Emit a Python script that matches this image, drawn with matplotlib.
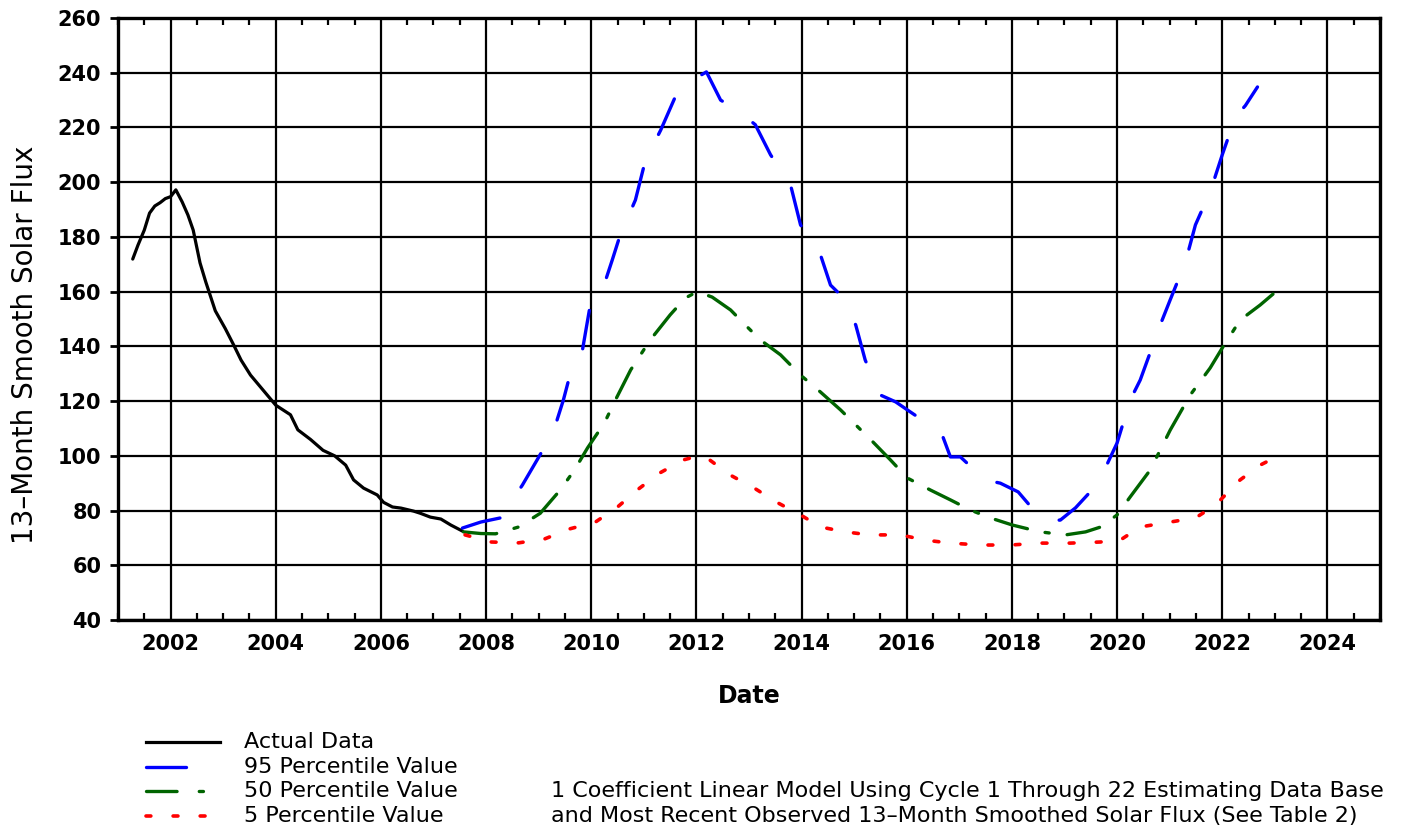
import matplotlib
matplotlib.use("Agg")
import matplotlib.pyplot as plt
from matplotlib.lines import Line2D
from matplotlib.ticker import MultipleLocator

# ---------- DATA ------------
actual_year = [2001.28, 2001.38, 2001.5, 2001.6, 2001.7, 2001.8, 2001.9, 2002.0, 2002.1,
               2002.22, 2002.33, 2002.43, 2002.56, 2002.67, 2002.85, 2003.04, 2003.2,
               2003.34, 2003.52, 2003.76, 2004.0, 2004.28, 2004.42, 2004.66, 2004.9,
               2005.12, 2005.33, 2005.48, 2005.67, 2005.93, 2006.05, 2006.22, 2006.38,
               2006.62, 2006.75, 2006.94, 2007.14, 2007.33, 2007.55]
actual_val = [171.9, 177.0, 182.5, 188.7, 191.3, 192.5, 194.0, 194.7, 197.2,
              192.8, 188.0, 182.5, 170.5, 163.5, 153.0, 146.5, 140.5,
              135.0, 129.5, 124.0, 118.5, 115.0, 109.5, 106.0, 102.0,
              100.0, 96.6, 91.2, 88.2, 85.7, 83.0, 81.3, 80.9,
              79.8, 79.0, 77.6, 76.9, 74.7, 72.5]

p95_year = [2007.55, 2007.9, 2008.27, 2008.69, 2008.97, 2009.19, 2009.32, 2009.47, 2009.57,
            2009.8, 2009.98, 2010.27, 2010.4, 2010.55, 2010.84, 2011.03, 2011.32, 2011.63,
            2011.9, 2012.19, 2012.46, 2012.8, 2013.12, 2013.41, 2013.79, 2013.98, 2014.36,
            2014.55, 2014.74, 2015.03, 2015.21, 2015.5, 2015.79, 2016.01, 2016.3, 2016.64,
            2016.83, 2017.02, 2017.49, 2017.78, 2018.12, 2018.4, 2018.64, 2018.92, 2019.21,
            2019.45, 2019.69, 2020.0, 2020.25, 2020.44, 2020.82, 2021.01, 2021.3, 2021.49,
            2021.78, 2022.0, 2022.25, 2022.44, 2022.67]
p95_val = [73.6, 75.8, 77.3, 89.3, 98.5, 105.8, 111.3, 120.4, 127.7,
           135.0, 155.0, 164.0, 171.6, 180.7, 193.5, 208.0, 219.0, 232.6,
           237.0, 240.3, 230.0, 226.0, 221.0, 210.0, 199.0, 184.4, 173.4,
           162.4, 158.8, 147.8, 135.0, 122.2, 119.7, 116.8, 113.0, 109.4,
           99.6, 99.6, 91.2, 90.0, 86.8, 80.5, 76.5, 76.5, 81.0,
           86.0, 92.0, 104.7, 120.4, 127.7, 147.8, 157.0, 170.8, 184.4,
           197.0, 210.0, 223.8, 228.0, 234.8]

p50_year = [2007.57, 2007.9, 2008.18, 2008.62, 2009.03, 2009.41, 2009.68, 2009.93, 2010.25,
            2010.46, 2010.75, 2011.12, 2011.5, 2011.79, 2012.02, 2012.3, 2012.65, 2012.93,
            2013.22, 2013.6, 2013.98, 2014.36, 2014.74, 2015.03, 2015.32, 2015.69, 2016.01,
            2016.45, 2016.83, 2017.21, 2017.59, 2018.01, 2018.54, 2019.02, 2019.4, 2019.69,
            2020.0, 2020.25, 2020.63, 2021.01, 2021.39, 2021.77, 2022.0, 2022.34, 2022.72,
            2023.1]
p50_val = [72.2, 71.6, 71.5, 74.0, 79.0, 87.5, 94.8, 102.9, 112.0,
           120.4, 131.4, 142.3, 151.5, 157.7, 160.0, 158.0, 153.3, 147.8,
           142.3, 136.9, 129.5, 123.3, 116.8, 111.3, 105.8, 98.5, 91.9,
           87.5, 83.9, 80.2, 77.3, 74.7, 72.2, 71.1, 72.2, 74.0,
           78.4, 85.0, 94.8, 109.4, 122.2, 132.1, 139.4, 149.6, 155.1,
           161.3]

p5_year = [2007.6, 2008.1, 2008.62, 2009.11, 2009.59, 2010.08, 2010.5, 2010.9, 2011.3,
           2011.75, 2012.05, 2012.23, 2012.64, 2013.1, 2013.53, 2013.98, 2014.36, 2014.83,
           2015.3, 2015.88, 2016.35, 2016.83, 2017.4, 2017.97, 2018.54, 2019.11, 2019.68,
           2020.06, 2020.44, 2021.01, 2021.49, 2021.87, 2022.34, 2022.72, 2023.1]
p5_val = [71.1, 68.5, 68.2, 69.6, 73.3, 75.8, 81.3, 87.9, 93.7,
          98.5, 100.0, 98.8, 93.0, 88.2, 83.0, 78.4, 74.0, 72.2,
          71.1, 71.1, 69.2, 68.1, 67.4, 67.4, 68.1, 68.1, 68.5,
          69.2, 74.0, 75.8, 77.3, 82.0, 91.2, 96.6, 100.3]

legend_labels = ["Actual Data", "95 Percentile Value", "50 Percentile Value", "5 Percentile Value"]
note_lines = ["1 Coefficient Linear Model Using Cycle 1 Through 22 Estimating Data Base",
              "and Most Recent Observed 13\u2013Month Smoothed Solar Flux (See Table 2)"]
# ----------------------------

plt.rcParams['font.family'] = ['DejaVu Sans']
plt.rcParams['lines.scale_dashes'] = False

W, H = 1418, 831
fig = plt.figure(figsize=(W / 100, H / 100), dpi=100)
ax = fig.add_axes([118 / W, 1 - 620 / H, (1380 - 118) / W, (620 - 18) / H])

blue_dash = (0, (28, 27))
green_dash = (0, (24, 13, 3, 13))
red_dot = (0, (3.5, 16))

ax.plot(actual_year, actual_val, color="black", lw=2.3, solid_capstyle="round", zorder=5)
ax.plot(p95_year, p95_val, color="#0000ff", lw=2.4, linestyle=blue_dash, dash_capstyle="round", zorder=5)
ax.plot(p50_year, p50_val, color="#006400", lw=2.4, linestyle=green_dash, dash_capstyle="round", zorder=5)
ax.plot(p5_year, p5_val, color="#ff0000", lw=2.6, linestyle=red_dot, dash_capstyle="round", zorder=5)

ax.set_xlim(2001, 2025)
ax.set_ylim(40, 260)
ax.xaxis.set_major_locator(MultipleLocator(2))
ax.xaxis.set_minor_locator(MultipleLocator(0.5))
ax.yaxis.set_major_locator(MultipleLocator(20))
ax.grid(True, which="major", color="black", lw=1.6)
ax.set_axisbelow(True)

for s in ax.spines.values():
    s.set_linewidth(2.4)

ax.tick_params(axis="x", which="major", direction="in", length=0, top=True, pad=10,
               labelsize=15)
ax.tick_params(axis="x", which="minor", direction="in", length=5, width=1.6, top=True)
ax.tick_params(axis="y", which="major", direction="out", length=6, width=2, pad=6,
               labelsize=15)
for lab in ax.get_xticklabels() + ax.get_yticklabels():
    lab.set_fontweight("bold")

ax.set_xlabel("Date", fontsize=17, fontweight="bold", labelpad=22)
ax.set_ylabel("13\u2013Month Smooth Solar Flux", fontsize=20)
ax.yaxis.set_label_coords(-0.0625, 0.457)

# legend drawn in figure pixels
rows = [742, 767, 791, 816]
def fx(px):
    return px / W
def fy(py):
    return 1 - py / H

fig.add_artist(Line2D([fx(146), fx(220)], [fy(rows[0])] * 2, color="black", lw=2.3))
fig.add_artist(Line2D([fx(146), fx(186)], [fy(rows[1])] * 2, color="#0000ff", lw=2.4,
                      solid_capstyle="round"))
fig.add_artist(Line2D([fx(146), fx(210)], [fy(rows[2])] * 2, color="#006400", lw=2.4,
                      linestyle=(0, (22, 16, 3, 20)), dash_capstyle="round"))
fig.add_artist(Line2D([fx(146), fx(210)], [fy(rows[3])] * 2, color="#ff0000", lw=2.6,
                      linestyle=(0, (3.5, 16)), dash_capstyle="round"))
for r, t in zip(rows, legend_labels):
    fig.text(fx(244), fy(r), t, fontsize=16, va="center", ha="left")
for r, t in zip(rows[2:], note_lines):
    fig.text(fx(551), fy(r), t, fontsize=16, va="center", ha="left")

fig.savefig("out.png", dpi=100)
